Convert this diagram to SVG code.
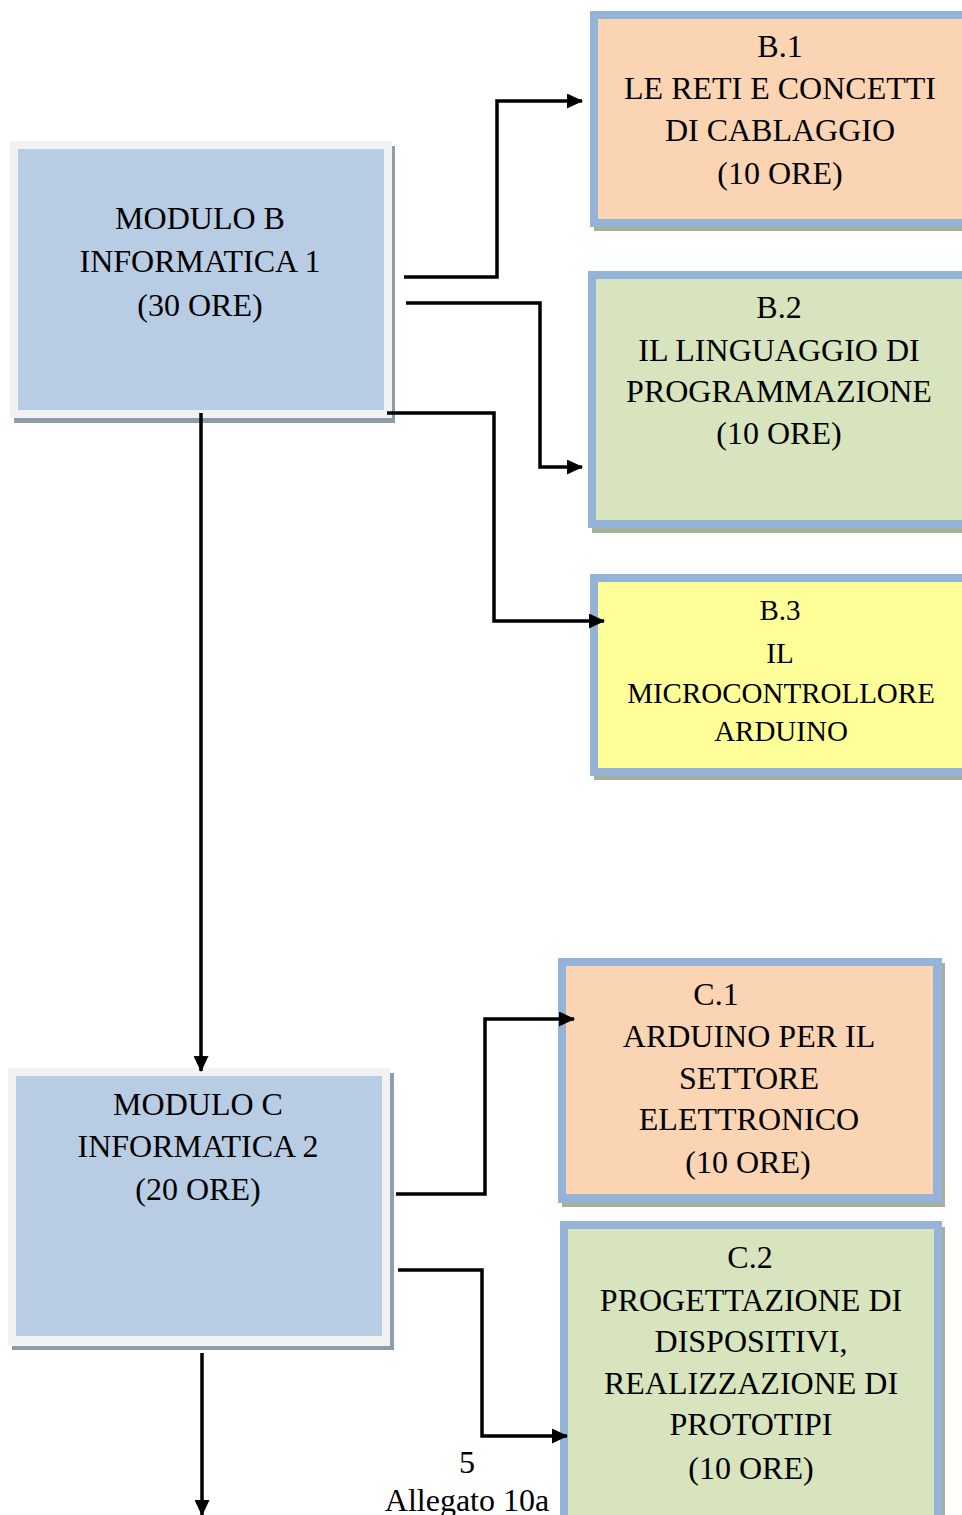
<svg xmlns="http://www.w3.org/2000/svg" width="962" height="1515" viewBox="0 0 962 1515">
<style>
.t{font-family:"Liberation Serif","Times New Roman",serif;font-size:32px;fill:#000;text-anchor:middle}
.s{font-size:29px}
.ol{fill:#f2f2f2}
.mod{fill:#b8cce4}
.shm{fill:#8e9cb0}
.bd{fill:#95b3d7}
.shs{fill:#a6b096}
.peach{fill:#fbd4b4}
.green{fill:#d7e4bd}
.yellow{fill:#ffff99}
.c{fill:none;stroke:#000;stroke-width:3.5;stroke-linejoin:miter}
</style>
<defs>
<marker id="ah" markerUnits="userSpaceOnUse" markerWidth="16" markerHeight="15" refX="15" refY="7.5" orient="auto">
<path d="M0,0 L16,7.5 L0,15 z" fill="#000"/>
</marker>
</defs>
<rect width="962" height="1515" fill="#fff"/>

<g id="moduloB">
<rect class="shm" x="14" y="146" width="381" height="277"/>
<rect class="ol" x="10" y="141" width="382" height="277"/>
<rect class="mod" x="18" y="149" width="366" height="261"/>
<text class="t" x="200" y="229">MODULO B</text>
<text class="t" x="200" y="272">INFORMATICA 1</text>
<text class="t" x="200" y="316">(30 ORE)</text>
</g>

<g id="b1">
<rect class="shs" x="594" y="16" width="380" height="215"/>
<rect class="bd" x="590" y="11" width="380" height="216"/>
<rect class="peach" x="598" y="19" width="364" height="200"/>
<text class="t" x="780" y="57">B.1</text>
<text class="t" x="780" y="99">LE RETI E CONCETTI</text>
<text class="t" x="780" y="141">DI CABLAGGIO</text>
<text class="t" x="780" y="184">(10 ORE)</text>
</g>

<g id="b2">
<rect class="shs" x="592" y="276" width="380" height="257"/>
<rect class="bd" x="588" y="271" width="380" height="257"/>
<rect class="green" x="596" y="279" width="366" height="241"/>
<text class="t" x="779" y="318">B.2</text>
<text class="t" x="779" y="361">IL LINGUAGGIO DI</text>
<text class="t" x="779" y="402">PROGRAMMAZIONE</text>
<text class="t" x="779" y="444">(10 ORE)</text>
</g>

<g id="b3">
<rect class="shs" x="594" y="579" width="380" height="201"/>
<rect class="bd" x="590" y="574" width="380" height="202"/>
<rect class="yellow" x="598" y="582" width="364" height="186"/>
<text class="t s" x="780" y="620">B.3</text>
<text class="t s" x="780" y="663">IL</text>
<text class="t s" x="781" y="703">MICROCONTROLLORE</text>
<text class="t s" x="781" y="741">ARDUINO</text>
</g>

<g id="moduloC">
<rect class="shm" x="12" y="1073" width="382" height="277"/>
<rect class="ol" x="8" y="1068" width="382" height="278"/>
<rect class="mod" x="16" y="1076" width="366" height="260"/>
<text class="t" x="198" y="1115">MODULO C</text>
<text class="t" x="198" y="1157">INFORMATICA 2</text>
<text class="t" x="198" y="1200">(20 ORE)</text>
</g>

<g id="c1">
<rect class="shs" x="562" y="963" width="383" height="244"/>
<rect class="bd" x="558" y="958" width="384" height="245"/>
<rect class="peach" x="566" y="966" width="367" height="228"/>
<text class="t" x="716" y="1005">C.1</text>
<text class="t" x="749" y="1047">ARDUINO PER IL</text>
<text class="t" x="749" y="1089">SETTORE</text>
<text class="t" x="749" y="1130">ELETTRONICO</text>
<text class="t" x="748" y="1173">(10 ORE)</text>
</g>

<g id="c2">
<rect class="shs" x="564" y="1227" width="381" height="300"/>
<rect class="bd" x="560" y="1221" width="382" height="300"/>
<rect class="green" x="568" y="1229" width="366" height="300"/>
<text class="t" x="750" y="1268">C.2</text>
<text class="t" x="751" y="1311">PROGETTAZIONE DI</text>
<text class="t" x="751" y="1352">DISPOSITIVI,</text>
<text class="t" x="751" y="1394">REALIZZAZIONE DI</text>
<text class="t" x="751" y="1435">PROTOTIPI</text>
<text class="t" x="751" y="1479">(10 ORE)</text>
</g>

<g id="connectors">
<path class="c" d="M404,277 H497 V101 H582" marker-end="url(#ah)"/>
<path class="c" d="M406,303 H540 V467 H582" marker-end="url(#ah)"/>
<path class="c" d="M387,413 H494 V621 H604" marker-end="url(#ah)"/>
<path class="c" d="M201,413 V1071" marker-end="url(#ah)"/>
<path class="c" d="M396,1194 H485 V1019 H574" marker-end="url(#ah)"/>
<path class="c" d="M398,1270 H482 V1436 H567" marker-end="url(#ah)"/>
<path class="c" d="M202,1353 V1515" marker-end="url(#ah)"/>
</g>

<g id="page">
<text class="t" x="467" y="1473">5</text>
<text class="t" x="467" y="1511">Allegato 10a</text>
</g>
</svg>
